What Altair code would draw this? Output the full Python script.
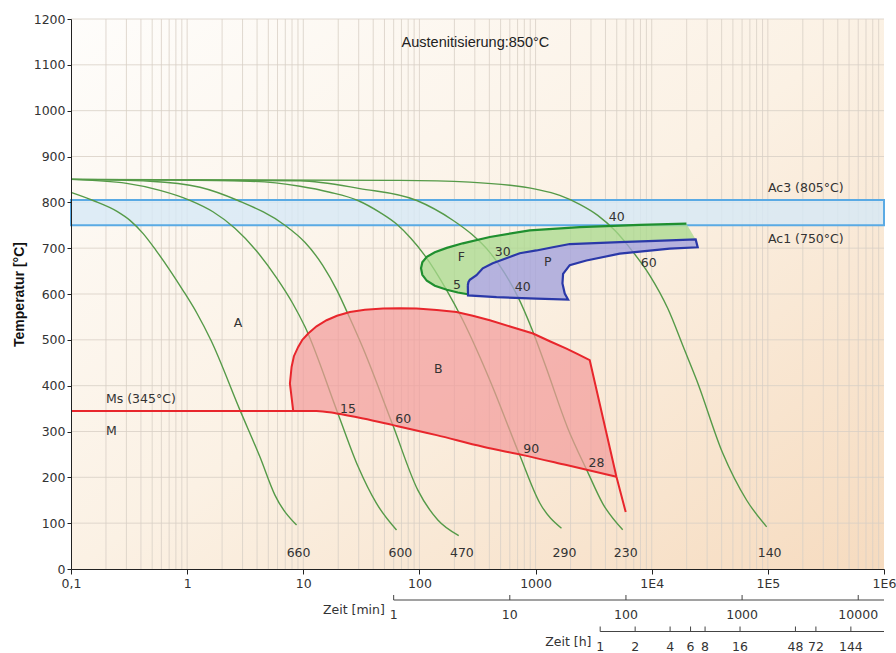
import altair as alt
import pandas as pd

# ---------------- data (time in s, temperature in °C) ----------------
c660_t = [0.1, 0.155, 0.249, 0.322, 0.4165, 0.539, 0.711, 0.92, 1.214, 1.603, 2.85, 4.23, 5.7, 8.75]
c660_T = [821.7, 804, 780.3, 760.7, 732.3, 695.3, 651.7, 608.1, 558, 499, 346.6, 244.8, 161.3, 95.9]
c600_t = [0.1, 0.3015, 0.583, 1.057, 1.667, 2.578, 3.91, 5.91, 8.14, 10.32, 19.97, 29.7, 42.7, 63.5]
c600_T = [850, 841.3, 826.1, 804.3, 779.4, 743.5, 695.5, 634.5, 578.7, 529, 337.8, 223, 143, 85]
c470_t = [0.1, 0.48, 1.29, 2.74, 6.94, 10.32, 14.7, 19.5, 25.2, 31.9, 59, 96.9, 144, 218]
c470_T = [850, 846, 833, 804, 750, 712.7, 662.6, 608, 547, 488, 314, 172, 107, 73]
c290_t = [0.1, 3.47, 9.35, 16.9, 29.5, 45.6, 63.9, 84.3, 111, 172, 232, 318, 404, 731, 1087, 1671]
c290_T = [850, 846, 835, 822, 804, 778, 752, 721.5, 684.4, 608, 547, 473, 412, 248, 144, 89]
c230_t = [0.1, 9.35, 30.7, 95, 194, 282.4, 403.5, 543, 703, 927.5, 1224, 1893, 2813, 3787, 5628]
c230_T = [850, 847, 830, 804, 761, 730.2, 690.9, 645.2, 594.2, 524, 441.6, 307.3, 211.4, 142.8, 85.6]
c140_t = [0.1, 67.8, 272, 1024, 1616, 2401, 3430, 4803, 6729, 9612, 13730, 19230, 24400, 40830, 65700, 97650]
c140_T = [850, 848, 844, 828.2, 815.2, 795.6, 771.6, 739, 695.3, 640.8, 568.9, 477.3, 412, 253, 150, 92]

# Ms line continuing as lower bainite boundary
ms_t = [0.1, 8.19, 13.0, 19.35, 32.8, 59.4, 140.4, 353.4, 780.6, 1845, 4969]
ms_T = [345, 345, 345, 339.4, 328.5, 313.9, 292.1, 266.6, 248.5, 226.7, 201.2]
# Bainite outline (left edge, top, right edge)
b_t = [8.19, 7.67, 7.93, 8.30, 9.04, 9.82, 11.02, 13.0, 15.87, 19.5, 25.2, 33.9, 48.7, 67.8, 94.4,
       141, 208.6, 288, 403.5, 612, 951.7, 1325, 1845, 2308, 2927, 4969, 5973]
b_T = [345, 404.8, 440.9, 464.3, 484.5, 500, 513.7, 529.6, 542.7, 552.5, 560.8, 565.6, 568.2, 568.9, 568.2,
       564.9, 560.8, 552.5, 542.7, 528.6, 513.7, 496.9, 481, 468.6, 455.5, 201.2, 124.2]
# Ferrite outline
f_t = [19890, 7882, 2401, 891, 403.5, 236.3, 172.1, 135.7, 115.8, 105.9, 103.2, 105.9, 115.8, 135.7,
       172.1, 214, 260.9]
f_T = [753.5, 750.9, 746.1, 738.9, 724.3, 710.6, 700.7, 691, 681.2, 669.2, 656.1, 641.9, 628.8, 617.9,
       609.2, 603.3, 599.4]
# Pearlite: top boundary (left -> right), then lower boundary (right -> left)
p_top_t = [261, 264, 271.5, 310, 351, 428, 731, 1018, 1406, 1969, 5303, 14290, 23910]
p_top_T = [619, 626, 631, 641, 656, 667, 689, 695, 702, 709, 713, 717, 719]
p_low_t = [24880, 14290, 5303, 2742, 1969, 1725, 1704, 1783, 1905, 1018, 461, 262]
p_low_T = [702, 699, 688, 673, 663, 644, 623, 601, 588, 590, 593, 597]

ac3, ac1 = 805, 750

# labels
c_lab = ["A", "F", "P", "B", "15", "60", "90", "28", "5", "30", "40", "40", "60",
         "660", "600", "470", "290", "230", "140"]
c_lab_t = [2.74, 230, 1274, 145, 24.3, 72.4, 917, 3343, 210, 522, 776, 4998, 9424,
           9.11, 68.5, 232, 1773, 5973, 103600]
c_lab_T = [536, 681, 669, 436, 350, 328, 261, 232, 619, 691, 615, 767, 667,
           35, 35, 35, 35, 35, 35]
l_lab = ["Ms (345°C)", "M", "Ac3 (805°C)", "Ac1 (750°C)"]
l_lab_t = [0.2, 0.2, 100200, 100200]
l_lab_T = [370, 301, 832, 719]

decades = [0.1, 1, 10, 100, 1000, 1e4, 1e5, 1e6]
temp_ticks = [0, 100, 200, 300, 400, 500, 600, 700, 800, 900, 1000, 1100, 1200]
min_vals = [1, 10, 100, 1000, 10000]
hour_vals = [1, 2, 4, 6, 8, 16, 48, 72, 144]

# ---------------- layout ----------------
W, H = 813, 550
FONT = "DejaVu Sans"
TXT = "#333333"

x_scale = alt.Scale(type="log", domain=[0.1, 1e6], nice=False)
y_scale = alt.Scale(domain=[0, 1200], nice=False, zero=False)

x_axis = alt.Axis(
    values=decades,
    labelExpr="datum.value < 0.5 ? '0,1' : (datum.value < 5000 ? format(datum.value, 'd') : '1E' + format(round(log(datum.value) / LN10), 'd'))",
    grid=False, tickSize=5, tickColor="#222", domainColor="#222",
    labelFont=FONT, labelFontSize=12.5, labelColor=TXT, labelPadding=3,
    labelFlush=False, labelOverlap=False, title="", zindex=1,
)
y_axis = alt.Axis(
    values=temp_ticks, format="d", grid=False, tickSize=4, tickColor="#222", domainColor="#222",
    labelFont=FONT, labelFontSize=12.5, labelColor=TXT, labelPadding=2,
    title="Temperatur [°C]", titleFont="Liberation Sans", titleFontWeight="bold",
    titleFontSize=14, titleColor="#111", titlePadding=7, zindex=1,
)


def X(f="x"):
    return alt.X(f, type="quantitative", scale=x_scale, axis=x_axis)


def Y(f="y"):
    return alt.Y(f, type="quantitative", scale=y_scale, axis=y_axis)


def path_df(ts, Ts, name=""):
    return pd.DataFrame({"x": ts, "y": Ts, "o": list(range(len(ts))), "c": name})


# background gradient
bg = alt.Chart(pd.DataFrame({"a": [0]})).mark_rect(
    color=alt.LinearGradient(
        gradient="linear", x1=0, y1=0, x2=1, y2=1,
        stops=[alt.GradientStop(offset=0, color="#fefdfb"),
               alt.GradientStop(offset=0.5, color="#fbf1e4"),
               alt.GradientStop(offset=1, color="#f6dbbf")],
    )
).encode(x=alt.value(0), x2=alt.value(W), y=alt.value(0), y2=alt.value(H))

# grid
vgrid_vals = [k * d for d in decades[:-1] for k in range(1, 10)][1:]
vgrid = alt.Chart(pd.DataFrame({"x": vgrid_vals})).mark_rule(
    color="#d8cfc6", strokeWidth=1, opacity=0.8).encode(x=X())
hgrid = alt.Chart(pd.DataFrame({"y": temp_ticks[1:]})).mark_rule(
    color="#d8cfc6", strokeWidth=1, opacity=0.8).encode(y=Y())

# Ac band
band = alt.Chart(pd.DataFrame({"x": [0.1], "x2": [1e6], "y": [ac3], "y2": [ac1]})).mark_rect(
    fill="#d6e8f6", fillOpacity=0.8, stroke="#5aaae4", strokeWidth=2
).encode(x=X(), x2="x2", y=Y(), y2="y2")

# cooling curves
curves_df = pd.concat([
    path_df(c660_t, c660_T, "660"), path_df(c600_t, c600_T, "600"),
    path_df(c470_t, c470_T, "470"), path_df(c290_t, c290_T, "290"),
    path_df(c230_t, c230_T, "230"), path_df(c140_t, c140_T, "140"),
])
curves = alt.Chart(curves_df).mark_line(color="#559a48", strokeWidth=1.4, interpolate="monotone").encode(
    x=X(), y=Y(), detail="c:N", order="o:Q")

# fills
b_poly = path_df(b_t[:-1] + ms_t[::-1][1:-2], b_T[:-1] + ms_T[::-1][1:-2])
f_poly = path_df(f_t + p_top_t, f_T + p_top_T)
p_poly = path_df(p_top_t + p_low_t, p_top_T + p_low_T)

b_fill = alt.Chart(b_poly).mark_line(fill="#f29a9a", fillOpacity=0.7, strokeWidth=0, strokeOpacity=0).encode(
    x=X(), y=Y(), order="o:Q")
f_fill = alt.Chart(f_poly).mark_line(fill="#a8da8c", fillOpacity=0.75, strokeWidth=0, strokeOpacity=0).encode(
    x=X(), y=Y(), order="o:Q")
p_fill = alt.Chart(p_poly).mark_line(fill="#a4a2dc", fillOpacity=0.8, strokeWidth=0, strokeOpacity=0).encode(
    x=X(), y=Y(), order="o:Q")

# outlines
ms_line = alt.Chart(path_df(ms_t, ms_T)).mark_line(color="#e8262c", strokeWidth=2, interpolate="monotone").encode(
    x=X(), y=Y(), order="o:Q")
b_line = alt.Chart(path_df(b_t, b_T)).mark_line(color="#e8262c", strokeWidth=2).encode(
    x=X(), y=Y(), order="o:Q")
f_line = alt.Chart(path_df(f_t, f_T)).mark_line(color="#1f8f2f", strokeWidth=2.2).encode(
    x=X(), y=Y(), order="o:Q")
p_line = alt.Chart(path_df(p_top_t + p_low_t + p_top_t[:1], p_top_T + p_low_T + p_top_T[:1])).mark_line(
    color="#2a38a8", strokeWidth=2.2).encode(x=X(), y=Y(), order="o:Q")

# texts
c_txt = alt.Chart(pd.DataFrame({"x": c_lab_t, "y": c_lab_T, "t": c_lab})).mark_text(
    align="center", baseline="middle", font=FONT, fontSize=12.5, color=TXT).encode(x=X(), y=Y(), text="t:N")
l_txt = alt.Chart(pd.DataFrame({"x": l_lab_t, "y": l_lab_T, "t": l_lab})).mark_text(
    align="left", baseline="middle", font=FONT, fontSize=12.5, color=TXT).encode(x=X(), y=Y(), text="t:N")
aus_txt = alt.Chart(pd.DataFrame({"x": [70.2], "y": [1148], "t": ["Austenitisierung:850°C"]})).mark_text(
    align="left", baseline="middle", font="Liberation Sans", fontSize=14.5, color="#222").encode(
    x=X(), y=Y(), text="t:N")

# secondary time axes (minutes, hours) drawn below the plot
AX = "#444444"
min_df = pd.DataFrame({"x": [v * 60 for v in min_vals], "t": [str(v) for v in min_vals]})
hour_df = pd.DataFrame({"x": [v * 3600 for v in hour_vals], "t": [str(v) for v in hour_vals]})

min_line = alt.Chart(pd.DataFrame({"x": [60], "x2": [1e6]})).mark_rule(color=AX, strokeWidth=1).encode(
    x=X(), x2="x2", y=alt.value(581))
min_ticks = alt.Chart(min_df).mark_rule(color=AX, strokeWidth=1).encode(
    x=X(), y=alt.value(576), y2=alt.value(581))
min_lbl = alt.Chart(min_df).mark_text(font=FONT, fontSize=12.5, color=TXT, baseline="middle").encode(
    x=X(), y=alt.value(596), text="t:N")
hour_line = alt.Chart(pd.DataFrame({"x": [3600], "x2": [1e6]})).mark_rule(color=AX, strokeWidth=1).encode(
    x=X(), x2="x2", y=alt.value(612.5))
hour_ticks = alt.Chart(hour_df).mark_rule(color=AX, strokeWidth=1).encode(
    x=X(), y=alt.value(607.5), y2=alt.value(612.5))
hour_lbl = alt.Chart(hour_df).mark_text(font=FONT, fontSize=12.5, color=TXT, baseline="middle").encode(
    x=X(), y=alt.value(628), text="t:N")
zeit_df = pd.DataFrame({"x": [50.4, 3027], "t": ["Zeit [min]", "Zeit [h]"], "py": [591, 623]})
zeit_lbl = alt.Chart(zeit_df).mark_text(font=FONT, fontSize=12.5, color=TXT, align="right", baseline="middle").encode(
    x=X(), y=alt.Y("py:Q", scale=None), text="t:N")

chart = alt.layer(
    bg, vgrid, hgrid, band, curves, b_fill, f_fill, p_fill,
    ms_line, b_line, f_line, p_line, c_txt, l_txt, aus_txt,
    min_line, min_ticks, min_lbl, hour_line, hour_ticks, hour_lbl, zeit_lbl,
).properties(
    width=W, height=H,
    autosize=alt.AutoSizeParams(type="none"),
    padding={"left": 71, "top": 19, "right": 12, "bottom": 84},
    background="white",
).configure_view(strokeWidth=0)

chart.save("out.html", embed_options={"renderer": "svg", "actions": False})
